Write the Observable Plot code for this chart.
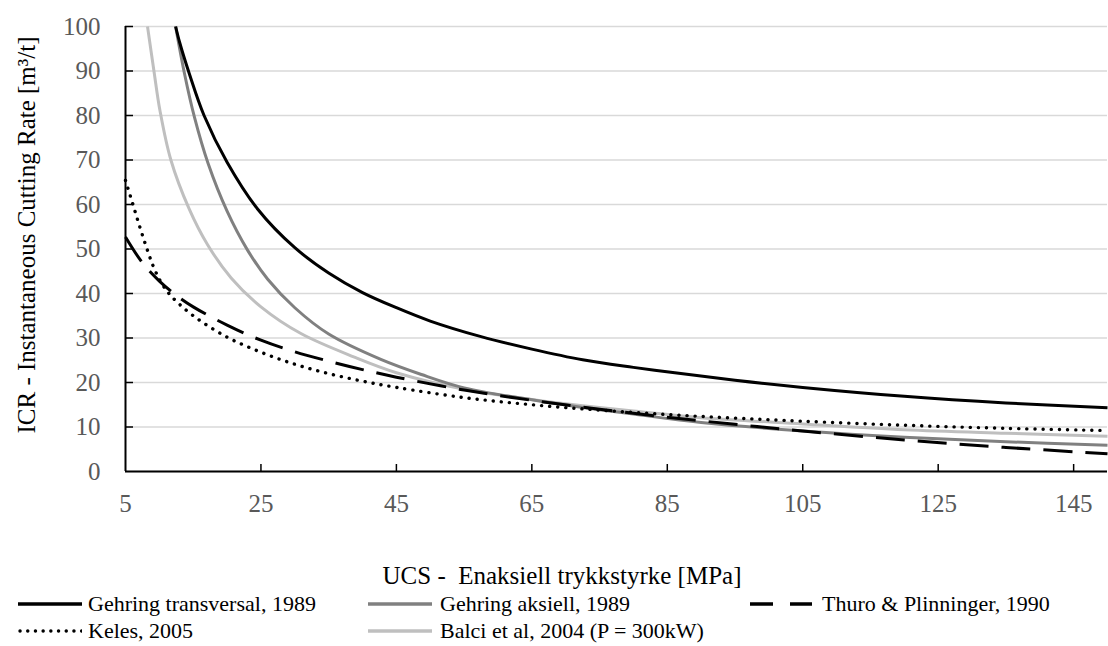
<!DOCTYPE html>
<html>
<head>
<meta charset="utf-8">
<script src="https://cdn.jsdelivr.net/npm/d3@7"></script>
<script src="https://cdn.jsdelivr.net/npm/@observablehq/plot@0.6"></script>
<style>
  html, body { margin: 0; padding: 0; background: #fff; }
  #wrap { position: relative; width: 1108px; height: 646px; font-family: "Liberation Serif", "Times New Roman", serif; }
  #xtitle { position: absolute; left: 0; width: 1124px; top: 561px; text-align: center; font-size: 25px; color: #000; white-space: pre; line-height: 30px; }
  .leg { position: absolute; display: flex; align-items: center; font-size: 22px; color: #000; white-space: nowrap; }
</style>
</head>
<body>
<div id="wrap">
  <div id="chart"></div>
  <div id="xtitle"></div>
  <div id="legend"></div>
</div>
<script>
// ---- Data ----
const xTicks = [5, 25, 45, 65, 85, 105, 125, 145];
const yTicks = [0, 10, 20, 30, 40, 50, 60, 70, 80, 90, 100];

const seriesNames = [
  "Gehring transversal, 1989",
  "Gehring aksiell, 1989",
  "Thuro & Plinninger, 1990",
  "Keles, 2005",
  "Balci et al, 2004 (P = 300kW)"
];

const transUCS = [12.4, 13, 14.4, 16.6, 20, 24.5, 30, 35, 40, 45, 50, 57.5, 65, 72.5, 80, 87, 95, 105, 120, 135, 150];
const transICR = [100, 96.4, 89.5, 80, 69.5, 59, 50.3, 44.6, 40.2, 36.8, 33.8, 30.3, 27.5, 25.1, 23.4, 22.0, 20.5, 18.9, 16.9, 15.4, 14.3];

const aksUCS = [12.4, 13.7, 15.2, 17.2, 20, 23, 26, 30, 35, 42.7, 48.7, 55, 65, 72.5, 80, 90, 105, 120, 135, 150];
const aksICR = [100, 89.5, 79.5, 69.2, 58.5, 49.8, 43.2, 36.8, 30.9, 25.2, 21.8, 18.8, 16.1, 14.4, 12.9, 11, 9.1, 7.7, 6.7, 5.9];

const thuroUCS = [5, 7.5, 10, 12.5, 15, 20, 25, 30, 35, 40, 45, 55, 65, 75, 85, 95, 105, 120, 135, 150];
const thuroICR = [52.7, 46.9, 42.8, 39.6, 37.0, 32.9, 29.5, 26.9, 24.8, 22.9, 21.2, 18.3, 16.0, 14.0, 12.2, 10.6, 9.1, 7.1, 5.4, 4.0];

const kelesUCS = [5, 6, 7, 8, 9, 10, 11, 12, 15, 20, 25, 30, 35, 40, 45, 55, 65, 75, 85, 95, 105, 120, 135, 150];
const kelesICR = [65.4, 60.5, 55.5, 50.8, 46.5, 43.2, 40.8, 39, 35, 30.2, 26.8, 24.1, 22.0, 20.3, 18.9, 16.6, 15.0, 13.8, 12.8, 12.0, 11.3, 10.4, 9.7, 9.2];

const balciUCS = [8.25, 9.2, 10.1, 11.7, 14.4, 17.1, 20.6, 25, 30.9, 38.8, 45, 55, 65, 72.5, 80, 90, 105, 120, 135, 150];
const balciICR = [100, 90, 81, 70, 59, 51, 43.5, 37, 31, 25.7, 22.2, 18.5, 16.2, 14.8, 13.6, 12.1, 10.7, 9.4, 8.6, 7.9];

const yTitle = "ICR - Instantaneous Cutting Rate [m³/t]";
const xTitle = "UCS -  Enaksiell trykkstyrke [MPa]";

// ---- Styles ----
const styles = [
  {stroke: "#000000", strokeWidth: 3, dash: null, cap: "butt"},
  {stroke: "#808080", strokeWidth: 3, dash: null, cap: "butt"},
  {stroke: "#000000", strokeWidth: 3, dash: "29,13", cap: "butt"},
  {stroke: "#000000", strokeWidth: 3.4, dash: "0.1,8", cap: "round"},
  {stroke: "#bfbfbf", strokeWidth: 3, dash: null, cap: "butt"}
];

const toRows = (u, v) => u.map((d, i) => ({ucs: d, icr: v[i]}));
const datasets = [
  toRows(transUCS, transICR),
  toRows(aksUCS, aksICR),
  toRows(thuroUCS, thuroICR),
  toRows(kelesUCS, kelesICR),
  toRows(balciUCS, balciICR)
];

const W = 1108, H = 540, mT = 26, mL = 125, mR = 1, mB = 69;
const plotW = W - mL - mR, plotH = H - mT - mB;

// draw order: light grey, grey, dotted, dashed, black
const order = [4, 1, 3, 2, 0];
const lineMarks = order.map(i => Plot.line(datasets[i], {
  x: "ucs", y: "icr", curve: "catmull-rom",
  stroke: styles[i].stroke, strokeWidth: styles[i].strokeWidth,
  strokeDasharray: styles[i].dash || undefined, strokeLinecap: styles[i].cap
}));

const chart = Plot.plot({
  width: W, height: H,
  marginTop: mT, marginLeft: mL, marginRight: mR, marginBottom: mB,
  x: {domain: [5, 150]},
  y: {domain: [0, 100]},
  style: {fontFamily: "Liberation Serif, Times New Roman, serif", background: "#fff", overflow: "visible"},
  marks: [
    Plot.gridY(yTicks, {stroke: "#d9d9d9", strokeOpacity: 1, strokeWidth: 1.5}),
    Plot.axisY(yTicks, {tickSize: 0, tickPadding: 25, label: null, fontSize: 25, fill: "#595959"}),
    Plot.axisX(xTicks, {tickSize: 0, tickPadding: 23, label: null, fontSize: 25, fill: "#595959"}),
    ...lineMarks,
    Plot.ruleX(xTicks.slice(1), {stroke: "#000", strokeWidth: 1.5, insetTop: plotH - 7}),
    Plot.ruleY(yTicks.slice(1), {stroke: "#000", strokeWidth: 1.5, insetRight: plotW - 8}),
    Plot.ruleY([0], {stroke: "#000", strokeWidth: 2}),
    Plot.ruleX([5], {stroke: "#000", strokeWidth: 2}),
    Plot.text([yTitle], {text: d => d, frameAnchor: "left", textAnchor: "middle", rotate: -90, dx: -99, dy: -14, fontSize: 25, fill: "#000"})
  ]
});
document.getElementById("chart").appendChild(chart);
document.getElementById("xtitle").textContent = xTitle;

// ---- Legend ----
const legendPos = [
  {lx: 18, lw: 64, tx: 88, y: 604},
  {lx: 368, lw: 64, tx: 440, y: 604},
  {lx: 750, lw: 62, tx: 822, y: 604},
  {lx: 18, lw: 64, tx: 88, y: 631},
  {lx: 368, lw: 64, tx: 440, y: 631}
];
const legend = document.getElementById("legend");
seriesNames.forEach((name, i) => {
  const p = legendPos[i], s = styles[i];
  const sample = document.createElementNS("http://www.w3.org/2000/svg", "svg");
  sample.setAttribute("width", p.lw); sample.setAttribute("height", 10);
  sample.style.position = "absolute"; sample.style.left = p.lx + "px"; sample.style.top = (p.y - 5) + "px";
  const ln = document.createElementNS("http://www.w3.org/2000/svg", "line");
  ln.setAttribute("x1", i === 3 ? 2 : 0); ln.setAttribute("x2", p.lw); ln.setAttribute("y1", 5); ln.setAttribute("y2", 5);
  ln.setAttribute("stroke", s.stroke); ln.setAttribute("stroke-width", i === 3 ? 3.4 : 3.6);
  if (i === 2) ln.setAttribute("stroke-dasharray", "23,17");
  if (i === 3) { ln.setAttribute("stroke-dasharray", "0.1,7.6"); ln.setAttribute("stroke-linecap", "round"); }
  sample.appendChild(ln);
  legend.appendChild(sample);
  const t = document.createElement("div");
  t.className = "leg";
  t.textContent = name;
  t.style.left = p.tx + "px"; t.style.top = (p.y - 13) + "px"; t.style.height = "26px";
  legend.appendChild(t);
});
</script>
</body>
</html>
